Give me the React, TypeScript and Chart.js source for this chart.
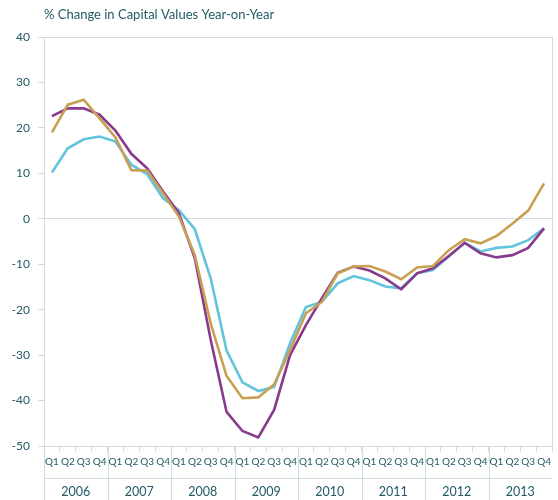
import React, { useEffect, useRef } from "react";
import { Chart, registerables } from "chart.js";

Chart.register(...registerables);

const years = ["2006", "2007", "2008", "2009", "2010", "2011", "2012", "2013"];
const quarterNames = ["Q1", "Q2", "Q3", "Q4"];
const categories = years.flatMap((y) => quarterNames.map((q) => `${q} ${y}`));

const seriesCyan = [
  10.2, 15.5, 17.5, 18.1, 17.0, 11.9, 9.8, 4.5,
  1.9, -2.3, -13.1, -29.0, -36.0, -37.9, -37.0, -27.4,
  -19.4, -18.3, -14.2, -12.6, -13.5, -14.9, -15.3, -12.0,
  -11.3, -8.3, -5.3, -7.2, -6.4, -6.1, -4.7, -2.1,
];
const seriesPurple = [
  22.6, 24.3, 24.3, 22.9, 19.4, 14.3, 11.1, 6.0,
  1.2, -8.7, -26.6, -42.5, -46.7, -48.1, -42.0, -30.0,
  -23.4, -17.5, -11.9, -10.5, -11.4, -13.1, -15.5, -12.0,
  -10.9, -8.2, -5.3, -7.6, -8.5, -8.0, -6.4, -2.1,
];
const seriesGold = [
  19.0, 25.1, 26.2, 22.1, 17.9, 10.7, 10.6, 5.6,
  0.5, -8.0, -23.0, -34.6, -39.5, -39.3, -36.4, -28.9,
  -20.8, -18.3, -12.0, -10.5, -10.4, -11.6, -13.3, -10.7,
  -10.4, -6.9, -4.5, -5.4, -3.8, -1.1, 1.8, 7.8,
];

const titleText = "% Change in Capital Values Year-on-Year";
const FONT = "Lato, 'Open Sans', sans-serif";
const TEXT = "#235a66";
const GRID = "#cfdde3";

const extras = {
  id: "extras",
  afterDraw(chart: any) {
    const { ctx, chartArea } = chart;
    const { left, right, top, bottom } = chartArea;
    const xs = chart.scales.x;
    const H = chart.height;
    ctx.save();
    ctx.strokeStyle = GRID;
    ctx.lineWidth = 1;
    ctx.beginPath();
    // right border
    ctx.moveTo(Math.round(right) + 0.5, top);
    ctx.lineTo(Math.round(right) + 0.5, bottom);
    // y axis extension
    ctx.moveTo(Math.round(left) + 0.5, bottom);
    ctx.lineTo(Math.round(left) + 0.5, H);
    // horizontal divider between quarter row and year row
    ctx.moveTo(left, 478.5);
    ctx.lineTo(right, 478.5);
    // year separators
    for (let k = 1; k < years.length; k++) {
      const a = xs.getPixelForValue(4 * k - 1);
      const b = xs.getPixelForValue(4 * k);
      const xp = Math.round((a + b) / 2) + 0.5;
      ctx.moveTo(xp, bottom);
      ctx.lineTo(xp, H);
    }
    ctx.stroke();

    // year labels
    ctx.fillStyle = TEXT;
    ctx.font = `12.5px ${FONT}`;
    ctx.textAlign = "center";
    ctx.textBaseline = "middle";
    years.forEach((y, k) => {
      const a = xs.getPixelForValue(4 * k);
      const b = xs.getPixelForValue(4 * k + 3);
      ctx.fillText(y, (a + b) / 2, 492);
    });

    // title
    ctx.font = `13px ${FONT}`;
    ctx.textAlign = "left";
    ctx.fillText(titleText, left, 15);
    ctx.restore();
  },
};

export default function App() {
  const ref = useRef<HTMLCanvasElement>(null);
  useEffect(() => {
    if (!ref.current) return;
    const chart = new Chart(ref.current, {
      type: "line",
      data: {
        labels: categories,
        datasets: [
          { label: "Gold", data: seriesGold, borderColor: "#c9a053" },
          { label: "Purple", data: seriesPurple, borderColor: "#883a8c" },
          { label: "Cyan", data: seriesCyan, borderColor: "#62c3dc" },
        ].map((d) => ({
          ...d,
          borderWidth: 2.6,
          pointRadius: 0,
          tension: 0,
          fill: false,
        })),
      },
      options: {
        animation: false,
        responsive: true,
        maintainAspectRatio: false,
        layout: { padding: { top: 37, right: 6, left: 0, bottom: 0 } },
        plugins: {
          legend: { display: false },
          tooltip: { enabled: false },
          title: { display: false },
        },
        scales: {
          x: {
            type: "category",
            offset: true,
            afterFit: (s: any) => {
              s.height = 54;
            },
            grid: {
              offset: true,
              drawOnChartArea: false,
              drawTicks: true,
              tickLength: 6,
              color: GRID,
              tickColor: GRID,
            },
            border: { color: GRID, width: 1 },
            ticks: {
              color: TEXT,
              font: { family: FONT, size: 10 },
              padding: 4,
              maxRotation: 0,
              autoSkip: false,
              callback: (_v: any, i: number) => quarterNames[i % 4],
            },
          },
          y: {
            min: -50,
            max: 40,
            afterFit: (s: any) => {
              s.width = 44;
            },
            grid: {
              drawOnChartArea: true,
              tickLength: 6,
              color: (c: any) =>
                c.tick && (c.tick.value === 0 || c.tick.value === 40) ? GRID : "rgba(0,0,0,0)",
              tickColor: GRID,
            },
            border: { color: GRID, width: 1 },
            ticks: {
              stepSize: 10,
              color: TEXT,
              font: { family: FONT, size: 12 },
              padding: 8,
            },
          },
        },
      },
      plugins: [extras],
    });
    return () => chart.destroy();
  }, []);
  return (
    <div style={{ position: "absolute", left: 0, top: 0, width: 558, height: 500, background: "#fff" }}>
      <canvas ref={ref} />
    </div>
  );
}
